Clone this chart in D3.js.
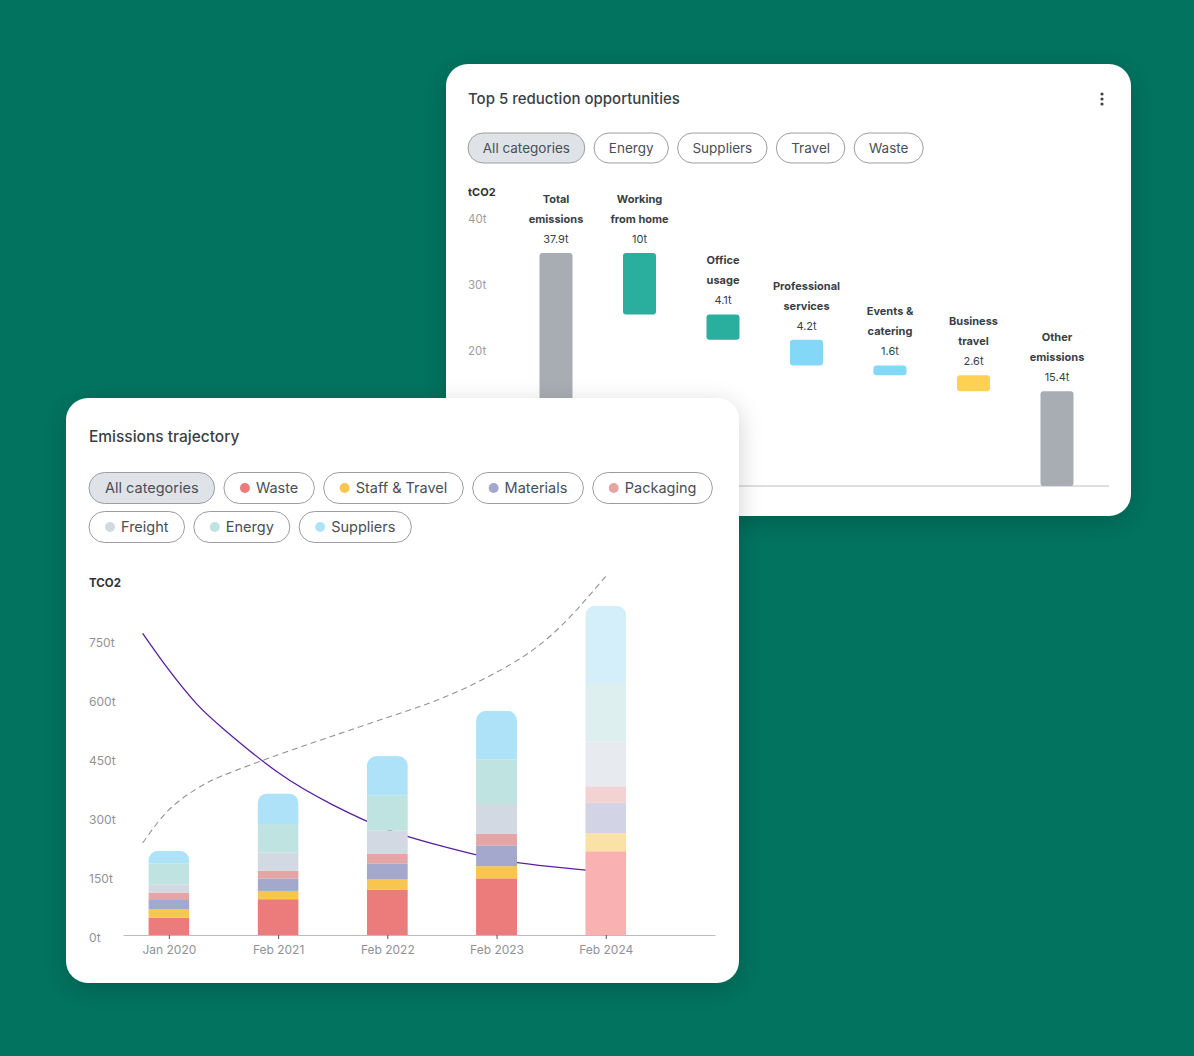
<!DOCTYPE html>
<html>
<head>
<meta charset="utf-8">
<script src="https://cdn.jsdelivr.net/npm/d3@7"></script>
<style>
  html, body { margin: 0; padding: 0; background: #01735f; }
  svg { display: block; }
  text { font-family: Inter, "Noto Sans", sans-serif; }
</style>
</head>
<body>
<svg id="scene"></svg>
<script>
// ---- top card: reduction waterfall ----
const oppFilters = ["All categories", "Energy", "Suppliers", "Travel", "Waste"];
const oppNames = [
  ["Total", "emissions"], ["Working", "from home"], ["Office", "usage"],
  ["Professional", "services"], ["Events &", "catering"], ["Business", "travel"],
  ["Other", "emissions"]
];
const oppValues = [37.9, 10, 4.1, 4.2, 1.6, 2.6, 15.4];
const oppKinds = ["total", "cut", "cut", "cut", "cut", "cut", "total"];
const oppTicks = [0, 10, 20, 30, 40];

// ---- bottom card: emissions trajectory ----
const periods = ["Jan 2020", "Feb 2021", "Feb 2022", "Feb 2023", "Feb 2024"];
const projected = [false, false, false, false, true];
const seriesNames = ["Waste", "Staff & Travel", "Materials", "Packaging", "Freight", "Energy", "Suppliers"];
const waste       = [44, 91, 115, 144, 213];
const staffTravel = [22, 21, 26, 31, 46];
const materials   = [23, 32, 41, 53, 77];
const packaging   = [19, 19, 24, 29, 42];
const freight     = [21, 47, 60, 76, 114];
const energy      = [53, 72, 89, 113, 146];
const suppliers   = [32, 78, 100, 124, 199];
const trajTicks = [0, 150, 300, 450, 600, 750];

// trend curves, position measured in periods (0 = Jan 2020)
const trendPos      = [-0.24, 0, 0.25, 0.5, 1, 1.5, 2, 2.5, 3, 3.5, 4];
const targetTrend   = [767, 674, 589, 524, 413, 331, 268, 226, 193, 174, 160];
const forecastTrend = [234, 318, 371, 406, 458, 506, 553, 602, 668, 762, 912];

// styles
const oppColors = ["#a7adb2", "#2aae9e", "#2aae9e", "#84d8f7", "#84d8f7", "#ffd152", "#a7adb2"];
const seriesColors = ["#ec7b7b", "#f8c54e", "#a5a8cd", "#e6a5a5", "#d2d9e3", "#bfe3e0", "#aee2f8"];
const seriesLight  = ["#fab1b1", "#fae2a6", "#d3d3e6", "#f2d2d2", "#e7eaef", "#ddefee", "#d4effa"];

const W = 1194, H = 1056;
const svg = d3.select("#scene").attr("width", W).attr("height", H);

svg.append("rect").attr("width", W).attr("height", H).attr("fill", "#01735f");

const defs = svg.append("defs");
defs.append("filter").attr("id", "shadow")
  .attr("x", "-20%").attr("y", "-20%").attr("width", "140%").attr("height", "140%")
  .append("feDropShadow")
  .attr("dx", 0).attr("dy", 6).attr("stdDeviation", 12)
  .attr("flood-color", "#000").attr("flood-opacity", 0.18);

function card(x, y, w, h) {
  const g = svg.append("g").attr("transform", `translate(${x},${y})`);
  g.append("rect")
    .attr("width", w).attr("height", h).attr("rx", 22)
    .attr("fill", "#fff").attr("filter", "url(#shadow)");
  return g;
}

// pill button; returns its width
function pill(g, x, cy, label, opt) {
  const p = g.append("g").attr("transform", `translate(${x},${cy})`);
  const r = p.append("rect");
  const dotSpace = opt.dot ? opt.dotR * 2 + 6 : 0;
  const t = p.append("text")
    .attr("x", opt.pad + dotSpace).attr("dy", "0.35em")
    .attr("fill", "#4a4f55")
    .style("font-size", opt.size + "px")
    .text(label);
  const w = t.node().getComputedTextLength() + opt.pad * 2 + dotSpace;
  r.attr("y", -opt.h / 2).attr("width", w).attr("height", opt.h).attr("rx", opt.h / 2)
    .attr("fill", opt.active ? "#dfe3e7" : "#fff")
    .attr("stroke", "#9a9ea3").attr("stroke-width", 1);
  if (opt.dot) {
    p.append("circle").attr("cx", opt.pad + opt.dotR).attr("r", opt.dotR).attr("fill", opt.dot);
  }
  return w;
}

// ===============================
// TOP CARD
// ===============================
const topCard = card(446, 64, 685, 452);

topCard.append("text")
  .attr("x", 22).attr("y", 40)
  .attr("fill", "#3a3f45")
  .style("font-size", "15px").style("font-weight", 500)
  .text("Top 5 reduction opportunities");

[-5, 0, 5].forEach(d => {
  topCard.append("circle").attr("cx", 656).attr("cy", 35 + d).attr("r", 1.6).attr("fill", "#444");
});

let px = 22;
oppFilters.forEach((f, i) => {
  px += pill(topCard, px, 84, f, { size: 13.5, h: 30, pad: 14.8, active: i === 0 }) + 9.3;
});

// bars through the waterfall scale
const oppX = d3.scalePoint().domain(d3.range(oppValues.length)).range([110, 611]);
const oppY = d3.scaleLinear().domain([0, 40]).range([422, 176]);
// tick labels sit on their own scale in the source design
const oppTickY = d3.scaleLinear().domain([0, 40]).range([419, 155]);

topCard.append("text")
  .attr("x", 22).attr("y", 132)
  .attr("fill", "#2f3338")
  .style("font-size", "11px").style("font-weight", 700)
  .text("tCO2");

topCard.append("g").selectAll("text")
  .data(oppTicks)
  .join("text")
  .attr("x", 22).attr("y", d => oppTickY(d)).attr("dy", "0.35em")
  .attr("fill", "#9a9ea3")
  .style("font-size", "11.5px")
  .text(d => d + "t");

topCard.append("line")
  .attr("x1", 22).attr("x2", 663)
  .attr("y1", oppY(0)).attr("y2", oppY(0))
  .attr("stroke", "#b9bdc1").attr("stroke-width", 1);

let running = 0;
const steps = oppValues.map((v, i) => {
  let y0, y1;
  if (oppKinds[i] === "total") { y0 = 0; y1 = v; running = v; }
  else { y0 = running - v; y1 = running; running = y0; }
  return { i, v, y0, y1 };
});

const barW = 33;
const stepG = topCard.append("g").selectAll("g").data(steps).join("g");

stepG.append("rect")
  .attr("x", d => oppX(d.i) - barW / 2)
  .attr("width", barW)
  .attr("y", d => oppY(d.y1))
  .attr("height", d => oppY(d.y0) - oppY(d.y1))
  .attr("rx", 3)
  .attr("fill", d => oppColors[d.i]);

stepG.append("text")
  .attr("x", d => oppX(d.i)).attr("y", d => oppY(d.y1) - 10)
  .attr("text-anchor", "middle")
  .attr("fill", "#3a3f45")
  .style("font-size", "11px")
  .text(d => d.v + "t");

stepG.each(function(d) {
  const lines = oppNames[d.i];
  lines.forEach((ln, k) => {
    d3.select(this).append("text")
      .attr("x", oppX(d.i))
      .attr("y", oppY(d.y1) - 30 - (lines.length - 1 - k) * 20)
      .attr("text-anchor", "middle")
      .attr("fill", "#3a3f45")
      .style("font-size", "11px").style("font-weight", 700)
      .text(ln);
  });
});

// ===============================
// BOTTOM CARD
// ===============================
const botCard = card(66, 398, 673, 585);
const plot = botCard.append("g").attr("transform", "translate(-66,-398)"); // page coordinates

plot.append("text")
  .attr("x", 89).attr("y", 442)
  .attr("fill", "#3a3f45")
  .style("font-size", "15.5px").style("font-weight", 500)
  .text("Emissions trajectory");

// filter pills with wrapping
const pillItems = [{ label: "All categories", dot: null }]
  .concat(seriesNames.map((s, i) => ({ label: s, dot: seriesColors[i] })));
let lx = 89, ly = 488;
pillItems.forEach((it, i) => {
  const opt = { size: 14.5, h: 31, pad: 16, dotR: 5, dot: it.dot, active: i === 0 };
  const probe = plot.append("g");
  const w = pill(probe, lx, ly, it.label, opt);
  if (lx + w > 720) {
    probe.remove();
    lx = 89; ly += 39;
    lx += pill(plot, lx, ly, it.label, opt) + 9.3;
  } else {
    lx += w + 9.3;
  }
});

const x = d3.scaleLinear().domain([-0.42, 5]).range([123, 715]);
const y = d3.scaleLinear().domain([0, 750]).range([935, 640]);

plot.append("text")
  .attr("x", 89).attr("y", 587)
  .attr("fill", "#2f3338")
  .style("font-size", "11.5px").style("font-weight", 700)
  .text("TCO2");

plot.append("g").selectAll("text")
  .data(trajTicks)
  .join("text")
  .attr("x", 89).attr("y", d => y(d) + 2.5).attr("dy", "0.35em")
  .attr("fill", "#8f9398")
  .style("font-size", "12px")
  .text(d => d + "t");

// trend lines behind the bars
const trend = vals => d3.line()
  .x((d, i) => x(trendPos[i]))
  .y(d => y(d))
  .curve(d3.curveNatural)(vals);

plot.append("path")
  .attr("d", trend(forecastTrend))
  .attr("fill", "none").attr("stroke", "#8f9398")
  .attr("stroke-width", 1.1).attr("stroke-dasharray", "6,4");

plot.append("path")
  .attr("d", trend(targetTrend))
  .attr("fill", "none").attr("stroke", "#5a1e9e")
  .attr("stroke-width", 1.3);

// stacked bars
const rows = periods.map((p, i) => {
  const o = { i };
  [waste, staffTravel, materials, packaging, freight, energy, suppliers]
    .forEach((arr, k) => { o[seriesNames[k]] = arr[i]; });
  return o;
});
const stack = d3.stack().keys(seriesNames)(rows);
const bw = 41;

periods.forEach((p, i) => {
  const total = d3.sum(seriesNames, k => rows[i][k]);
  defs.append("clipPath").attr("id", "clip" + i)
    .append("rect")
    .attr("x", x(i) - bw / 2).attr("width", bw)
    .attr("y", y(total)).attr("height", y(0) - y(total) + 12)
    .attr("rx", 10);
});

const layers = plot.append("g").selectAll("g").data(stack).join("g");
layers.selectAll("rect")
  .data((d, k) => d.map(s => ({ s, k })))
  .join("rect")
  .attr("clip-path", d => `url(#clip${d.s.data.i})`)
  .attr("x", d => x(d.s.data.i) - bw / 2)
  .attr("width", bw)
  .attr("y", d => y(d.s[1]))
  .attr("height", d => y(d.s[0]) - y(d.s[1]))
  .attr("fill", d => projected[d.s.data.i] ? seriesLight[d.k] : seriesColors[d.k]);

// x axis
const xAxis = plot.append("g")
  .attr("transform", `translate(0,${y(0)})`)
  .call(d3.axisBottom(x)
    .tickValues(d3.range(periods.length))
    .tickFormat(i => periods[i])
    .tickSize(4).tickSizeOuter(0).tickPadding(6));
xAxis.select(".domain").attr("stroke", "#b9bdc1");
xAxis.selectAll(".tick line").attr("stroke", "#555");
xAxis.selectAll(".tick text")
  .attr("fill", "#8f9398")
  .style("font-size", "12px")
  .style("font-family", "Inter, 'Noto Sans', sans-serif");
</script>
</body>
</html>
